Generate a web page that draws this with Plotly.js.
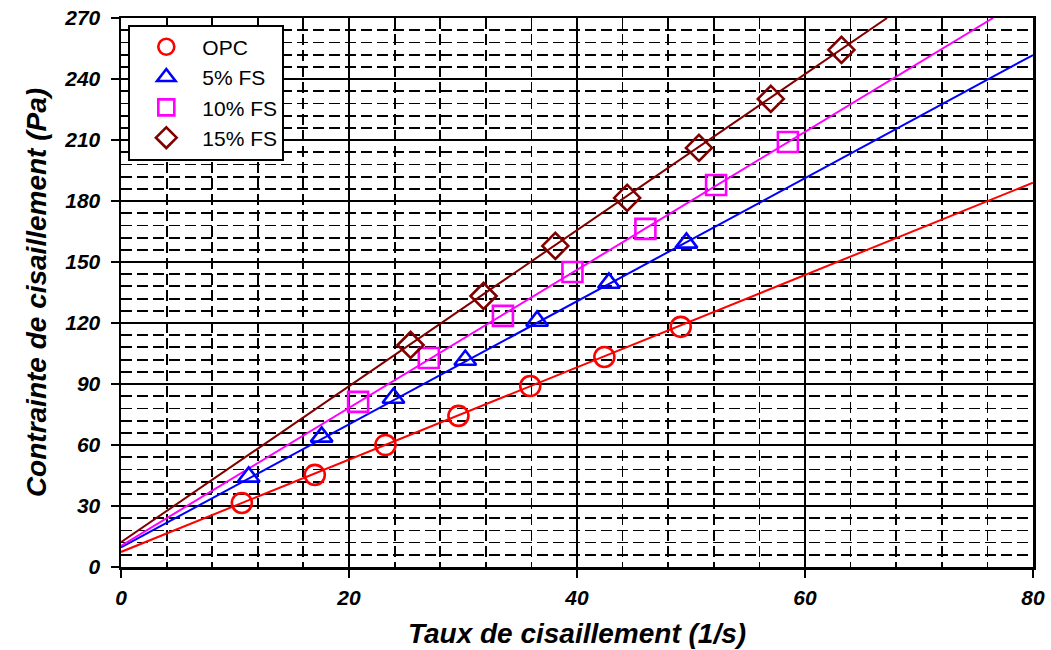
<!DOCTYPE html>
<html><head><meta charset="utf-8">
<script src="https://cdn.plot.ly/plotly-3.0.1.min.js"></script>
<style>html,body{margin:0;padding:0;background:#fff}#chart{width:1051px;height:650px}</style>
</head><body><div id="chart"></div>
<script>
// Measured points
const opcX = [10.6, 17.0, 23.2, 29.6, 35.9, 42.4, 49.1];
const opcY = [31.5, 45.3, 60.0, 74.3, 89.0, 103.3, 118.1];
const fs5X = [11.2, 17.6, 23.9, 30.2, 36.5, 42.8, 49.6];
const fs5Y = [44.3, 64.0, 83.1, 101.8, 121.0, 139.7, 159.4];
const fs10X = [20.8, 27.0, 33.5, 39.6, 46.0, 52.2, 58.5];
const fs10Y = [81.2, 102.8, 123.5, 145.1, 166.3, 187.9, 209.0];
const fs15X = [25.4, 31.8, 38.1, 44.4, 50.7, 57.0, 63.2];
const fs15Y = [109.2, 133.3, 157.9, 181.5, 206.1, 230.2, 254.3];
// Fitted lines (end points)
const opcFitX = [0, 80];   const opcFitY = [7.4, 189];
const fs5FitX = [0, 80];   const fs5FitY = [9.6, 251.8];
const fs10FitX = [0, 76.5]; const fs10FitY = [10.4, 270];
const fs15FitX = [0, 67.2]; const fs15FitY = [12.2, 270];

const names = ['OPC', '5% FS', '10% FS', '15% FS'];
const colors = ['#ff0000', '#0000ff', '#ff00ff', '#800000'];
const symbols = ['circle-open', 'triangle-up-open', 'square-open', 'diamond-open'];
const sizes = [20, 19, 20, 20];
const ptsX = [opcX, fs5X, fs10X, fs15X];
const ptsY = [opcY, fs5Y, fs10Y, fs15Y];
const fitX = [opcFitX, fs5FitX, fs10FitX, fs15FitX];
const fitY = [opcFitY, fs5FitY, fs10FitY, fs15FitY];

const traces = [];
for (let i = 0; i < 4; i++) {
  traces.push({x: fitX[i], y: fitY[i], mode: 'lines', showlegend: false, hoverinfo: 'skip',
    line: {color: colors[i], width: 2}});
}
for (let i = 0; i < 4; i++) {
  traces.push({x: ptsX[i], y: ptsY[i], mode: 'markers', name: names[i],
    marker: {symbol: symbols[i], color: colors[i], size: sizes[i], line: {color: colors[i], width: 2.6}}});
}

const fam = 'Liberation Sans, Arial, sans-serif';
const tickFont = {family: fam, size: 21, color: '#000', weight: 'bold', style: 'italic'};
const titleFont = {family: fam, size: 28, color: '#000', weight: 'bold', style: 'italic'};

const layout = {
  width: 1051, height: 650,
  margin: {l: 121, r: 18, t: 18, b: 83},
  paper_bgcolor: '#fff', plot_bgcolor: '#fff',
  showlegend: true,
  legend: {x: 0.008, y: 0.988, xanchor: 'left', yanchor: 'top', bgcolor: '#fff',
    bordercolor: '#000', borderwidth: 2,
    font: {family: fam, size: 21, color: '#000'},
    tracegroupgap: 0, itemwidth: 62},
  xaxis: {range: [0, 80], dtick: 20, tick0: 0, showgrid: true, gridcolor: '#000', gridwidth: 1.2,
    zeroline: false, showline: true, linecolor: '#000', linewidth: 2.5, mirror: true,
    ticks: 'outside', ticklen: 8, tickwidth: 1.5, tickcolor: '#000', tickfont: tickFont,
    ticklabelstandoff: 2,
    minor: {dtick: 4, showgrid: true, gridcolor: '#000', gridwidth: 1.8, griddash: '11px,5px'},
    title: {text: 'Taux de cisaillement (1/s)', font: titleFont, standoff: 16}},
  yaxis: {range: [0, 270], dtick: 30, tick0: 0, showgrid: true, gridcolor: '#000', gridwidth: 1.2,
    zeroline: false, showline: true, linecolor: '#000', linewidth: 2.5, mirror: true,
    ticks: 'outside', ticklen: 8, tickwidth: 1.5, tickcolor: '#000', tickfont: tickFont,
    ticklabelstandoff: 6,
    minor: {dtick: 6, showgrid: true, gridcolor: '#000', gridwidth: 1.8, griddash: '11px,5px'},
    title: {text: 'Contrainte de cisaillement (Pa)', font: titleFont, standoff: 10}}
};

Plotly.newPlot('chart', traces, layout, {displayModeBar: false, staticPlot: true});
</script></body></html>
